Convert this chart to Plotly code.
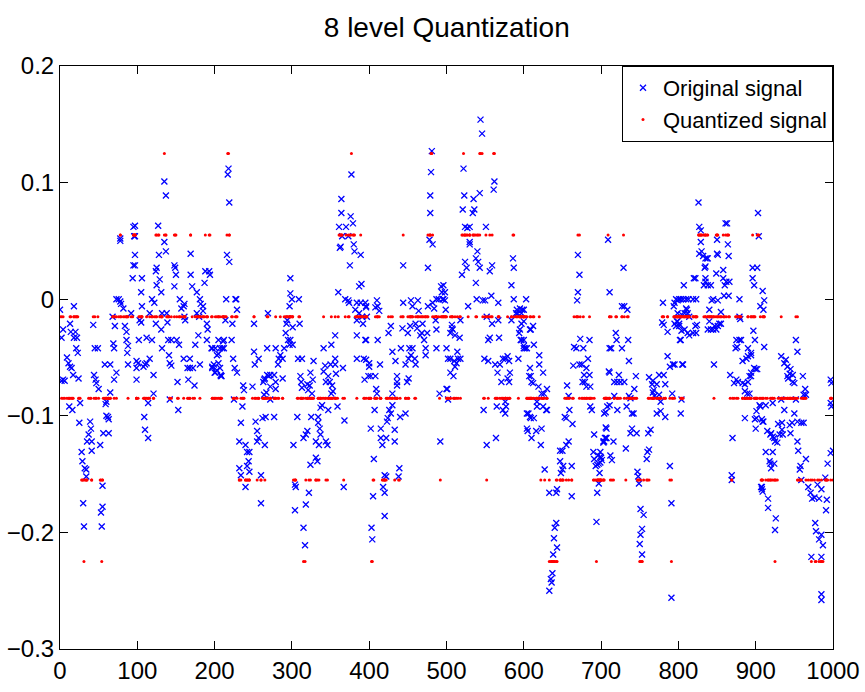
import numpy as np
import plotly.graph_objects as go

# Original signal: (sample index, value in thousandths)
orig_000 = [(0,-9),(2,-33),(2,-70),(4,-26),(4,-69),(6,-70),(9,-50),(11,-55),(12,-92),(13,-21),(13,-58),(14,-28),(15,-59),(16,-95),(17,-65),(18,-6),(18,-33),(20,-28),(21,-42),(22,-33),(23,-46),(24,-68),(25,-106),(26,-89),(28,-131),(29,-139),(30,-175),(31,-195),(32,-145),(34,-146),(34,-152),(35,-122),(37,-116),(39,-105),(40,-111),(41,-122),(41,-130),(43,-22),(44,-65),(45,-42),(46,-69),(47,-72),(49,-42),(50,-77),(52,-125),(53,-183),(54,-195),(55,-160),(55,-178),(56,-115),(58,-56),(59,-90),(60,-88),(60,-100),(62,-101),(63,-103),(63,-115),(65,-56),(65,-80),(68,-15),(69,-38),(70,-42),(70,-69),(71,-23),(73,0),(73,-63),(76,0),(78,52),(78,50),(78,-2),(79,-4),(82,-8),(84,-23),(86,-28),(86,-35),(87,-46),(88,-40),(88,-56),(92,-12),(94,18),(95,62),(95,29),(96,54),(97,63),(97,54),(97,38),(97,29),(99,-53),(99,-59),(99,-69)]
orig_100 = [(101,-55),(102,-35),(103,-18),(105,6),(105,-20),(106,18),(106,-6),(108,-58),(109,-101),(110,-56),(110,-112),(112,-55),(112,-33),(114,-89),(114,-119),(116,-51),(116,-12),(119,0),(119,-35),(121,-65),(121,-81),(122,-3),(124,24),(124,-21),(125,27),(125,12),(127,63),(128,38),(129,17),(131,6),(131,-26),(132,-12),(132,-42),(135,49),(135,101),(137,41),(137,89),(138,-12),(139,-20),(140,-35),(141,-48),(142,-55),(142,-86),(144,-35),(144,-57),(148,29),(148,11),(149,27),(150,21),(151,-35),(152,-71),(153,-95),(154,-39),(155,0),(157,-8),(160,-6),(160,-51),(161,-4),(161,-15),(162,-18),(165,-59),(166,-69),(168,-51),(168,-59),(169,39),(169,21),(171,11),(172,-59),(174,-74),(175,-39),(177,6),(177,-12),(179,-31),(180,-15),(181,0),(181,-56),(182,-4),(185,-6),(185,-10),(187,14),(188,24),(190,-21),(190,-35),(191,-26),(193,24),(194,21),(196,-42),(197,-58),(197,-42),(197,-59),(199,-56)]
orig_200 = [(200,-63),(201,-42),(201,-63),(203,-48),(203,-61),(205,-35),(205,-47),(205,-55),(207,-42),(207,-59),(208,-65),(208,-66),(209,-66),(210,-42),(211,-36),(212,-35),(212,-42),(214,-18),(215,0),(216,38),(217,107),(218,112),(219,83),(219,32),(222,-35),(223,-21),(224,-51),(225,-86),(226,-59),(227,0),(228,0),(229,-9),(229,-63),(232,-122),(232,-145),(234,-106),(234,-151),(236,-92),(237,-74),(238,-78),(240,-125),(240,-161),(242,-131),(242,-143),(244,-139),(245,-131),(245,-148),(249,-75),(251,-45),(251,-21),(252,-56),(253,-105),(255,-113),(255,-122),(257,-51),(257,-119),(260,-151),(260,-175),(262,-102),(263,-71),(264,-69),(264,-82),(265,-68),(265,-125),(266,-101),(267,-80),(268,-65),(268,-42),(269,-12),(270,-66),(272,-65),(272,-75),(272,-86),(277,-65),(277,-101),(279,-77),(279,-71),(279,-42),(282,-56),(283,-51),(285,-48),(288,-51),(288,-68),(290,-42),(292,-29),(293,-21),(294,-18),(295,-35),(297,-39),(297,-6),(298,18),(298,5),(298,-35)]
orig_300 = [(300,0),(301,-24),(301,-39),(302,-125),(304,-159),(304,-181),(305,-161),(307,-101),(308,-51),(309,0),(310,-21),(311,-66),(312,-71),(313,-51),(313,-76),(315,-119),(315,-196),(317,-211),(318,-116),(318,-176),(320,-113),(320,-73),(321,-78),(322,-166),(323,-74),(324,-142),(324,-63),(325,-101),(326,-81),(327,-69),(328,-53),(331,-136),(331,-122),(333,-139),(334,-101),(334,-106),(335,-125),(336,-111),(337,-116),(337,-93),(339,-91),(341,-42),(341,-62),(343,-57),(344,-71),(344,-122),(346,-125),(347,-66),(347,-95),(349,-71),(350,-56),(351,-81),(351,-39),(352,-74),(353,-79),(356,-56),(356,-51),(356,-31),(357,-64),(359,-92),(360,6),(361,62),(362,44),(363,45),(364,74),(364,86),(365,54),(366,-59),(367,-161),(368,-104),(369,0),(370,62),(373,54),(373,-1),(374,-3),(375,29),(376,71),(377,107),(379,65),(380,47),(381,41),(382,-9),(384,-3),(384,-18),(384,-31),(384,-51),(387,11),(387,-12),(389,38),(389,-3),(390,13),(391,-15),(392,-21),(393,-51),(394,-69),(395,-3),(395,-35),(396,-7),(396,-6),(396,-35),(396,-52),(397,-15),(399,-66)]
orig_400 = [(400,-55),(400,-58),(402,-111),(402,-66),(403,-196),(404,-206),(405,-169),(406,-137),(407,-95),(408,-7),(408,-66),(409,-77),(410,-1),(410,-81),(411,-6),(411,-35),(413,-10),(414,-56),(415,-111),(415,-119),(417,-125),(418,-161),(420,-166),(420,-186),(420,-151),(422,-119),(422,-152),(423,-105),(424,-102),(425,-29),(426,-95),(428,-98),(428,-23),(430,-91),(430,-81),(430,-45),(433,-112),(433,-122),(434,-53),(436,-71),(436,-74),(436,-66),(438,-152),(439,-145),(440,-101),(441,-42),(443,-25),(444,-3),(444,29),(447,-98),(447,-56),(449,-71),(450,-29),(451,-68),(451,-51),(452,-42),(453,-23),(454,-1),(454,-48),(456,-6),(456,-42),(459,-51),(460,-56),(460,-21),(462,-25),(463,-1),(464,-10),(466,-31),(468,-29),(469,-21),(471,-35),(473,-42),(473,-48),(475,-29),(476,-6),(476,27),(478,51),(479,89),(479,74),(480,109),(481,127),(482,47),(482,-3),(484,-8),(486,-18),(487,0),(487,-26),(487,-42),(490,0),(491,-81),(492,-122),(493,11),(494,6),(495,0),(496,12),(496,0),(498,6),(498,-1),(499,-9)]
orig_500 = [(500,-42),(500,-77),(501,-77),(502,-51),(502,-86),(505,-29),(505,-51),(505,-63),(507,-25),(507,-22),(508,-26),(509,-66),(510,-53),(511,-31),(511,-58),(513,-55),(514,-45),(515,-51),(517,-33),(518,-51),(518,-18),(520,21),(521,77),(522,112),(523,89),(524,62),(524,32),(526,27),(527,61),(528,-6),(530,62),(530,49),(530,47),(534,74),(535,86),(536,77),(538,35),(538,14),(539,0),(540,41),(541,32),(543,91),(543,27),(544,154),(546,142),(547,-1),(548,-95),(549,-51),(550,-1),(551,62),(552,-15),(552,-125),(554,-35),(554,-53),(556,24),(556,-33),(558,3),(559,29),(559,-21),(561,94),(562,101),(563,-56),(564,-119),(565,-92),(566,-63),(567,-3),(567,-18),(568,-33),(569,-56),(571,-71),(573,-51),(573,-95),(576,-51),(576,-88),(576,-98),(577,-92),(579,-49),(579,-68),(581,-53),(581,-71),(582,-63),(584,12),(584,-18),(586,35),(587,27),(587,0),(590,-12),(591,-9),(592,-12),(593,-51),(594,-29),(595,-8),(595,-26),(596,-35),(597,-12),(597,-21),(597,-35),(598,-9)]
orig_600 = [(600,-9),(600,-19),(600,-35),(600,-40),(600,-42),(602,-42),(603,0),(604,-42),(604,-98),(604,-111),(605,-113),(606,-98),(607,-66),(608,-26),(608,-59),(608,-101),(609,-66),(609,-102),(609,-26),(610,-71),(610,-119),(612,-23),(612,-72),(613,-39),(613,-102),(616,-113),(617,-88),(617,-92),(619,-75),(620,-48),(620,-56),(622,-125),(623,-81),(623,-111),(625,-63),(625,-92),(626,-81),(627,-146),(629,-95),(630,-95),(630,-77),(633,-166),(633,-250),(635,-240),(636,-243),(637,-235),(638,-219),(639,-205),(640,-196),(642,-192),(642,-166),(643,-163),(643,-213),(647,-130),(647,-139),(648,-149),(650,-130),(650,-146),(651,-143),(653,-101),(655,-125),(655,-102),(656,-74),(658,-122),(658,-83),(659,-95),(662,-143),(662,-169),(663,-107),(664,-57),(665,-41),(668,-42),(669,-1),(670,6),(670,38),(672,21),(672,-56),(673,-34),(675,-56),(676,-71),(677,-42),(678,-65),(679,-71),(681,-59),(681,-75),(683,-51),(685,-35),(685,-65),(686,-75),(686,-92),(688,-95),(690,-131),(691,-116),(691,-137),(693,-143),(694,-191),(695,-166),(695,-142),(696,-134),(697,-141),(697,-158),(698,-149),(699,-135),(699,-131),(699,-140)]
orig_700 = [(700,-136),(701,-138),(703,-122),(703,-123),(704,-122),(704,-98),(705,-119),(706,-110),(706,-97),(706,-119),(707,-119),(707,-111),(708,-92),(709,51),(710,-62),(711,-91),(711,-63),(711,-42),(711,6),(712,-134),(713,-42),(714,-138),(716,-122),(717,-71),(717,-83),(719,-29),(720,-35),(721,-71),(721,-95),(723,-65),(725,-71),(727,-6),(727,-42),(729,27),(730,-6),(730,-71),(732,-128),(733,-92),(734,-9),(735,-35),(736,-53),(736,-83),(738,-85),(738,-115),(740,-98),(740,-111),(742,-98),(743,-77),(745,-66),(746,-115),(747,-148),(748,-152),(749,-158),(750,-210),(751,-180),(751,-202),(753,-197),(753,-219),(755,-185),(759,-137),(760,-131),(761,-115),(762,-129),(762,-67),(764,-112),(766,-73),(767,-70),(767,-80),(768,-78),(769,-83),(772,-73),(772,-98),(775,-65),(775,-82),(777,-88),(777,-96),(779,-20),(780,-3),(781,-65),(781,-22),(783,-101),(783,-73),(786,-49),(786,-28),(789,-58),(789,-143),(791,-256),(791,-175),(792,-81),(793,-56),(794,-6),(795,-21),(795,-3),(795,-56),(797,0),(797,-23),(798,-19),(799,-1),(799,-12),(799,-19)]
orig_800 = [(801,0),(801,-23),(801,-21),(802,-35),(803,0),(803,-98),(803,-35),(804,-13),(804,-27),(804,-86),(805,-56),(806,0),(806,-56),(807,12),(808,-12),(808,-26),(810,0),(810,-8),(811,-9),(812,-12),(812,-29),(813,0),(814,-15),(814,-31),(819,0),(819,-29),(820,18),(822,18),(822,-23),(823,0),(823,-29),(824,-22),(826,83),(827,62),(827,39),(829,59),(829,49),(830,41),(832,37),(833,12),(834,27),(835,35),(835,28),(835,18),(835,15),(837,35),(838,35),(838,12),(838,-26),(840,-9),(840,-19),(842,12),(842,-26),(843,-1),(845,0),(845,-26),(846,-56),(847,-23),(849,22),(849,-26),(850,39),(850,51),(851,38),(851,-1),(851,-23),(853,-21),(855,-21),(855,-11),(858,25),(858,18),(859,3),(860,12),(861,65),(862,15),(863,65),(864,47),(865,37),(865,3),(866,15),(867,-65),(869,-151),(869,-155),(870,-119),(872,-72),(874,-42),(875,-35),(875,-69),(876,-41),(877,-71),(879,0),(879,-15),(879,-35),(880,-17),(881,-35),(883,-53),(883,-72),(886,-73),(886,-79),(886,-102),(888,-51),(889,-81),(890,-49),(890,-42),(890,-71),(892,-66),(892,-81),(894,-46),(894,-63),(894,-48),(894,-66),(896,27),(896,18),(897,-27),(898,12),(898,-59),(899,-35),(899,-103)]
orig_900 = [(900,-60),(900,-111),(901,-102),(901,-96),(902,-60),(902,27),(903,74),(904,54),(905,-91),(906,-92),(906,-6),(907,-161),(908,-161),(908,-163),(908,-103),(909,-105),(909,-165),(909,7),(910,-9),(910,-105),(911,-1),(911,-41),(913,-91),(913,-131),(915,-113),(916,-171),(916,-179),(918,-139),(919,-116),(919,-141),(920,-115),(920,-145),(922,-89),(922,-118),(922,-131),(924,-119),(924,-141),(925,-122),(925,-198),(926,-188),(928,-123),(929,-107),(931,-116),(933,-49),(933,-86),(934,-106),(934,-112),(935,-116),(937,-55),(937,-95),(939,-52),(941,-58),(941,-66),(942,-68),(944,-64),(944,-108),(945,-60),(945,-115),(947,-106),(948,-65),(948,-71),(950,-72),(950,-98),(952,-35),(952,-86),(954,-45),(954,-105),(954,-122),(955,-130),(957,-146),(958,-143),(959,-155),(959,-106),(961,-66),(962,-82),(962,-106),(964,-77),(965,-82),(965,-137),(968,-161),(971,-166),(972,-221),(973,-171),(976,-170),(977,-192),(978,-199),(980,-159),(982,-171),(982,-206),(985,-163),(985,-202),(985,-221),(985,-253),(985,-258),(987,-211),(990,-153),(991,-181),(992,-172),(993,-141),(997,-132),(997,-69),(997,-89),(998,-72),(998,-92),(1000,-130)]

# 8 quantization levels
quant_levels = [-0.295, -0.225, -0.155, -0.085, -0.015, 0.055, 0.125, 0.195]

segments = [orig_000, orig_100, orig_200, orig_300, orig_400,
            orig_500, orig_600, orig_700, orig_800, orig_900]
pairs = [p for seg in segments for p in seg]
x = np.array([p[0] for p in pairs], dtype=float)
y = np.array([p[1] for p in pairs], dtype=float) / 1000.0
lv = np.array(quant_levels)
yq = lv[np.argmin(np.abs(y[:, None] - lv[None, :]), axis=1)]

FONT = "Liberation Sans, Arial, Helvetica, sans-serif"

fig = go.Figure()
fig.add_trace(go.Scatter(
    x=x, y=y, mode="markers", name="Original signal",
    marker=dict(symbol="x-thin", size=6, color="#0000ff",
                line=dict(color="#0000ff", width=1.3)),
))
fig.add_trace(go.Scatter(
    x=x, y=yq, mode="markers", name="Quantized signal",
    marker=dict(symbol="circle", size=3, color="#ff0000", line=dict(width=0)),
))

axis_common = dict(
    showline=True, linecolor="black", linewidth=1, mirror="ticks",
    ticks="inside", ticklen=8, tickcolor="black", tickwidth=1,
    showgrid=False, zeroline=False, automargin=False,
    tickfont=dict(family=FONT, size=24, color="black"),
)
fig.update_layout(
    width=865, height=692,
    margin=dict(l=60, r=32, t=66, b=43),
    paper_bgcolor="white", plot_bgcolor="white",
    title=dict(text="8 level Quantization", x=0.5165, xanchor="center",
               y=1 - 27 / 692, yanchor="middle",
               font=dict(family=FONT, size=28, color="black")),
    xaxis=dict(range=[0, 1000], dtick=100, tick0=0, **axis_common),
    yaxis=dict(range=[-0.3, 0.2], dtick=0.1, tick0=-0.3, **axis_common),
    legend=dict(x=1, y=1, xanchor="right", yanchor="top",
                bgcolor="white", bordercolor="black", borderwidth=1,
                font=dict(family=FONT, size=22, color="black"),
                tracegroupgap=0, itemsizing="trace"),
    showlegend=True,
)
fig.write_html("out.html")
